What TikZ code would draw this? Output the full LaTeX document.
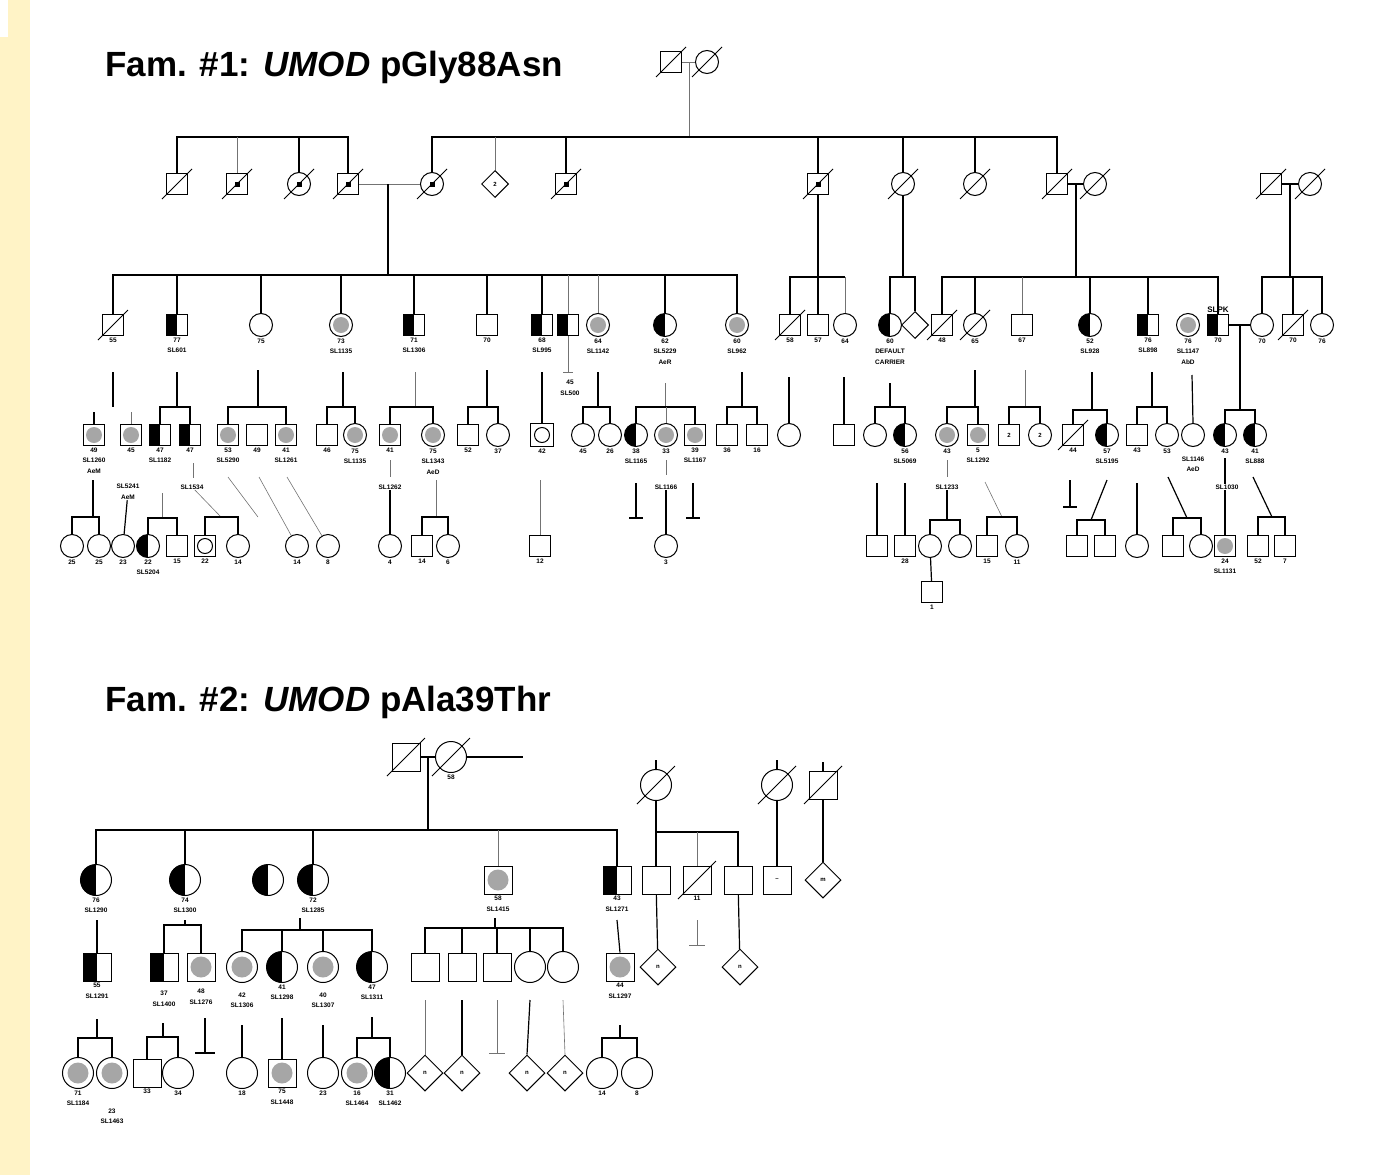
\documentclass[tikz,border=0pt]{standalone}
\usepackage{fontspec}
\setmainfont{Liberation Sans}
\usetikzlibrary{shapes.geometric,positioning}
\definecolor{strip}{HTML}{FFF3C6}

\begin{document}
\begin{tikzpicture}[x=1pt,y=-1pt,
  m/.style={draw,rectangle,minimum size=21pt,inner sep=0pt,line width=1pt,fill=white,font=\fontsize{6}{6}\selectfont\bfseries},
  f/.style={draw,circle,minimum size=23pt,inner sep=0pt,line width=1pt,fill=white,font=\fontsize{6}{6}\selectfont\bfseries},
  u/.style={draw,diamond,minimum size=27pt,inner sep=0pt,line width=1pt,fill=white,font=\fontsize{6}{6}\selectfont\bfseries},
  hf/.style={path picture={\fill[black] (path picture bounding box.south west) rectangle (path picture bounding box.north);}},
  ga/.style={path picture={\fill[black!35] (path picture bounding box.center) circle (8pt);}},
  mk/.style={path picture={\fill[black] (path picture bounding box.center) ++(-2.5,-2.5) rectangle ++(5,5);}},
  ring/.style={path picture={\draw[black] (path picture bounding box.center) circle (7.5pt);}},
  ln/.style={line width=1.2pt},
  tn/.style={line width=0.6pt,black!55},
  lab/.style={font=\fontsize{6.5}{10.5}\selectfont\bfseries,align=center,inner sep=0.5pt,fill=white},
  ttl/.style={font=\fontsize{35}{35}\selectfont\bfseries,anchor=west,inner sep=0pt},
  every label/.style={font=\fontsize{6.5}{10.5}\selectfont\bfseries,align=center,inner sep=0.5pt},
  label distance=1pt]
\useasboundingbox (0,0) rectangle (1376,1175);
\fill[strip] (0,0) rectangle (30,1175);
\fill[white] (0,0) rectangle (8,37);

% ---- family 1 ----
\node[ttl] (t1) at (105,67) {Fam. \#1: \textit{UMOD} pGly88Asn};
\node[m] (g1) at (671,62) {}; \node[f] (g2) at (707,62) {};
\coordinate (g12) at (689,62);
\draw[tn] (g1) -- (g2); \draw[tn] (g12) -- (g12 |- 0,137);

% generation II
\node[m] (A1) at (177,184) {};
\node[m,mk] (A2) at (237,184) {};
\node[f,mk] (A3) at (299,184) {};
\node[m,mk] (A4) at (348,184) {};
\node[f,mk] (B1) at (432,184) {};
\node[u] (B2) at (495,184) {2};
\node[m,mk] (B3) at (566,184) {};
\node[m,mk] (B4) at (818,184) {};
\node[f] (B5) at (903,184) {};
\node[f] (B6) at (975,184) {};
\node[m] (B7) at (1057,184) {};
\node[f] (B8) at (1095,184) {};
\node[m] (C1) at (1271,184) {};
\node[f] (C2) at (1310,184) {};
\draw[ln] (A1.north) |- (A4.north |- 0,137) -- (A4.north);
\draw[tn] (A2.north) -- (A2.north |- 0,137); \draw[ln] (A3.north) -- (A3.north |- 0,137);
\draw[ln] (B1.north) |- (B7.north |- 0,137) -- (B7.north);
\draw[tn] (B2.north) -- (B2.north |- 0,137);
\foreach \n in {B3,B4,B5,B6} \draw[ln] (\n.north) -- (\n.north |- 0,137);
\draw[tn] (A4) -- (B1); \coordinate (m1) at (388,184);
\draw[ln] (B7) -- (B8); \coordinate (m2) at (1076,184);
\draw[ln] (C1) -- (C2); \coordinate (m3) at (1290,184);

% generation III
\node[m,label=below:55] (c1) at (113,325) {};
\node[m,hf,label=below:77\\SL601] (c2) at (177,325) {};
\node[f,label=below:75] (c3) at (261,325) {};
\node[f,ga,label=below:73\\SL1135] (c4) at (341,325) {};
\node[m,hf,label=below:71\\SL1306] (c5) at (414,325) {};
\node[m,label=below:70] (c6) at (487,325) {};
\node[m,hf,label=below:68\\SL995] (c7) at (542,325) {};
\node[m,hf] (c8) at (568,325) {};
\node[f,ga,label=below:64\\SL1142] (c9) at (598,325) {};
\node[f,hf,label=below:62\\SL5229\\AeR] (c10) at (665,325) {};
\node[f,ga,label=below:60\\SL962] (c11) at (737,325) {};
\draw[ln] (m1) -- (m1 |- 0,275);
\draw[ln] (c1.north) |- (c11.north |- 0,275) -- (c11.north);
\foreach \n in {c2,c3,c4,c5,c6,c7,c10} \draw[ln] (\n.north) -- (\n.north |- 0,275);
\foreach \n in {c8,c9} \draw[tn] (\n.north) -- (\n.north |- 0,275);
\draw[tn] (c8.south) -- (c8 |- 0,372) ++(-5,0) -- ++(10,0);
\node[lab] (c8l) at (570,388) {45\\SL500};

\node[m,label=below:58] (d1) at (790,325) {};
\node[m,label=below:57] (d2) at (818,325) {};
\node[f,label=below:64] (d3) at (845,325) {};
\draw[ln] (B4) -- (d2);
\draw[ln] (d1.north) |- (d3.north |- 0,277); \draw[tn] (d3.north) -- (d3.north |- 0,277);

\node[f,hf,label=below:60\\DEFAULT\\CARRIER] (e1) at (890,325) {};
\node[u] (e2) at (915,325) {};
\draw[ln] (B5) -- (B5 |- 0,277);
\draw[ln] (e1.north) |- (e2.north |- 0,277) -- (e2.north);

\node[m,label=below:48] (h1) at (942,325) {};
\node[f,label=below:65] (h2) at (975,325) {};
\node[m,label=below:67] (h3) at (1022,325) {};
\node[f,hf,label=below:52\\SL928] (h4) at (1090,325) {};
\node[m,hf,label=below:76\\SL898] (h5) at (1148,325) {};
\node[f,ga,label=below:76\\SL1147\\AbD] (h6) at (1188,325) {};
\node[m,hf,label=below:70,label={[font=\fontsize{8}{8}\selectfont\bfseries]above:SLPK}] (h7) at (1218,325) {};
\draw[ln] (m2) -- (m2 |- 0,277);
\draw[ln] (h1.north) |- (h7.north |- 0,277) -- (h7.north);
\foreach \n in {h2,h4,h5} \draw[ln] (\n.north) -- (\n.north |- 0,277);
\draw[tn] (h3.north) -- (h3.north |- 0,277);

\node[f,label=below:70] (k1) at (1262,325) {};
\node[m,label=below:70] (k2) at (1293,325) {};
\node[f,label=below:76] (k3) at (1322,325) {};
\draw[ln] (m3) -- (m3 |- 0,277);
\draw[ln] (k1.north) |- (k3.north |- 0,277) -- (k3.north);
\draw[ln] (k2.north) -- (k2.north |- 0,277);
\draw[ln] (h7) -- (k1); \coordinate (m4) at (1240,325);

% generation IV
\node[m,ga,label=below:49\\SL1260\\AeM] (p1) at (94,435) {};
\node[m,ga,label=below:45] (p2) at (131,435) {};
\node[m,hf,label=below:47\\SL1182] (p3) at (160,435) {};
\node[m,hf,label=below:47] (p4) at (190,435) {};
\node[lab] (p2l) at (128,492) {SL5241\\AeM};
\node[lab] (p4l) at (192,487) {SL1534};
\draw[ln] (c1) ++(0,47) -- (c1 |- 0,407);
\draw[ln] (p1.north) -- ++(0,-12); \draw[tn] (p2.north) -- ++(0,-12);
\draw[ln] (c2) ++(0,47) -- (c2 |- 0,407);
\draw[ln] (p3.north) |- (p4.north |- 0,407) -- (p4.north);
\draw[tn] (p4) ++(3,28) -- ++(0,15);

\node[m,ga,label=below:53\\SL5290] (q1) at (228,435) {};
\node[m,label=below:49] (q2) at (257,435) {};
\node[m,ga,label=below:41\\SL1261] (q3) at (286,435) {};
\draw[ln] (c3) ++(-3,45) -- ++(0,37);
\draw[ln] (q1.north) |- (q3.north |- 0,407) -- (q3.north);

\node[m,label=below:46] (r1) at (327,435) {};
\node[f,ga,label=below:75\\SL1135] (r2) at (355,435) {};
\draw[ln] (c4) ++(2,47) -- ++(0,35);
\draw[ln] (r1.north) |- (r2.north |- 0,407) -- (r2.north);

\node[m,ga,label=below:41] (s1) at (390,435) {};
\node[f,ga,label=below:75\\SL1343\\AeD] (s2) at (433,435) {};
\node[lab] (s1l) at (390,487) {SL1262};
\draw[tn] (c5) ++(1,47) -- ++(0,35);
\draw[ln] (s1.north) |- (s2.north |- 0,407) -- (s2.north);
\draw[tn] (s1) ++(0,25) -- ++(0,17);

\node[m,label=below:52] (u1) at (468,435) {};
\node[f,label=below:37] (u2) at (498,435) {};
\draw[ln] (c6) ++(0,45) -- ++(0,37);
\draw[ln] (u1.north) |- (u2.north |- 0,407) -- (u2.north);

\node[m,ring,minimum size=23pt,label=below:42] (v1) at (542,435) {};
\draw[ln] (c7) ++(0,47) -- (v1.north);

\node[f,label=below:45] (w1) at (583,435) {};
\node[f,label=below:26] (w2) at (610,435) {};
\draw[ln] (c9) ++(0,47) -- ++(0,35);
\draw[ln] (w1.north) |- (w2.north |- 0,407) -- (w2.north);

\node[f,hf,label=below:38\\SL1165] (x1) at (636,435) {};
\node[f,ga,label=below:33] (x2) at (666,435) {};
\node[m,ga,label=below:39\\SL1167] (x3) at (695,435) {};
\draw[tn] (c10) ++(0,58) -- ++(0,24);
\draw[ln] (x1.north) |- (x3.north |- 0,407) -- (x3.north);
\draw[tn] (x2.north) -- (x2.north |- 0,407);
\draw[tn] (x2) ++(0,25) -- ++(0,15);
\draw[ln] (x1) ++(0,48) -- ++(0,35) ++(-7,0) -- ++(14,0);
\draw[ln] (x3) ++(-2,48) -- ++(0,35) ++(-7,0) -- ++(14,0);
\node[lab] (x2l) at (666,487) {SL1166};
\node[f,label=below:3] (y1) at (666,546) {};
\draw[ln] (x2l) -- (y1);

\node[m,label=below:36] (z1) at (727,435) {};
\node[m,label=below:16] (z2) at (757,435) {};
\draw[ln] (c11) ++(5,47) -- ++(0,35);
\draw[ln] (z1.north) |- (z2.north |- 0,407) -- (z2.north);

\node[f] (aa1) at (789,435) {};
\node[m] (aa2) at (844,435) {};
\draw[ln] (d1) ++(-1,52) -- (aa1.north);
\draw[ln] (d3) ++(-1,52) -- (aa2.north);

\node[f] (bb1) at (875,435) {};
\node[f,hf,label=below:56\\SL5069] (bb2) at (905,435) {};
\draw[ln] (e1) ++(0,58) -- ++(0,24);
\draw[ln] (bb1.north) |- (bb2.north |- 0,407) -- (bb2.north);
\node[m] (cc1) at (877,546) {};
\node[m,label=below:28] (cc2) at (905,546) {};
\draw[ln] (bb1) ++(2,48) -- (cc1.north);
\draw[ln] (bb2) ++(0,48) -- (cc2.north);

\node[f,ga,label=below:43] (dd1) at (947,435) {};
\node[m,ga,label=below:5\\SL1292] (dd2) at (978,435) {};
\draw[ln] (h2) ++(0,45) -- ++(0,37);
\draw[ln] (dd1.north) |- (dd2.north |- 0,407) -- (dd2.north);
\draw[tn] (dd1) ++(0,25) -- ++(0,17);
\node[lab] (dd1l) at (947,487) {SL1233};
\node[f] (ee1) at (930,546) {};
\node[f] (ee2) at (960,546) {};
\node[m,label=below:1] (ff1) at (932,592) {};
\draw[ln] (dd1l) -- (dd1l |- 0,520);
\draw[ln] (ee1.north) |- (ee2.north |- 0,520) -- (ee2.north);
\draw[ln] (ee1) -- (ff1);
\node[m,label=below:15] (ee3) at (987,546) {};
\node[f,label=below:11] (ee4) at (1017,546) {};
\coordinate (jn5) at (1002,517);
\draw[tn] (dd2) ++(7,47) -- (jn5);
\draw[ln] (ee3.north) |- (ee4.north |- 0,517) -- (ee4.north);

\node[m] (gg1) at (1009,435) {2};
\node[f] (gg2) at (1040,435) {2};
\draw[tn] (h3) ++(3,45) -- ++(0,37);
\draw[ln] (gg1.north) |- (gg2.north |- 0,407) -- (gg2.north);

\node[m,label=below:44] (hh1) at (1073,435) {};
\node[f,hf,label=below:57\\SL5195] (hh2) at (1107,435) {};
\draw[ln] (h4) ++(2,47) -- ++(0,38);
\draw[ln] (hh1.north) |- (hh2.north |- 0,410) -- (hh2.north);
\draw[ln] (hh1) ++(-3,45) -- ++(0,27) ++(-7,0) -- ++(14,0);
\node[m] (ii1) at (1077,546) {};
\node[m] (ii2) at (1105,546) {};
\coordinate (jn6) at (1091,520);
\draw[ln] (hh2) ++(0,45) -- (jn6);
\draw[ln] (ii1.north) |- (ii2.north |- 0,520) -- (ii2.north);

\node[m,label=below:43] (jj1) at (1137,435) {};
\node[f,label=below:53] (jj2) at (1167,435) {};
\draw[ln] (h5) ++(4,47) -- ++(0,35);
\draw[ln] (jj1.north) |- (jj2.north |- 0,407) -- (jj2.north);
\node[f] (kk1) at (1137,546) {};
\draw[ln] (jj1) ++(0,48) -- (kk1.north);
\node[m] (kk2) at (1173,546) {};
\node[f] (kk3) at (1201,546) {};
\coordinate (jn7) at (1187,518);
\draw[ln] (jj2) ++(1,42) -- (jn7);
\draw[ln] (kk2.north) |- (kk3.north |- 0,518) -- (kk3.north);

\node[f,label={[yshift=-8pt]below:SL1146\\AeD}] (ll1) at (1193,435) {};
\draw[ln] (h6) ++(4,50) -- (ll1.north);

\node[f,hf,label=below:43] (mm1) at (1225,435) {};
\node[f,hf,label=below:41\\SL888] (mm2) at (1255,435) {};
\draw[ln] (m4) -- (m4 |- 0,410);
\draw[ln] (mm1.north) |- (mm2.north |- 0,410) -- (mm2.north);
\node[m,ga,label=below:24\\SL1131] (nn1) at (1225,546) {};
\draw[ln] (mm1) ++(0,23) -- (nn1.north);
\node[lab] (mm1l) at (1227,487) {SL1030};
\node[m,label=below:52] (nn2) at (1258,546) {};
\node[m,label=below:7] (nn3) at (1285,546) {};
\coordinate (jn8) at (1272,517);
\draw[ln] (mm2) ++(-2,42) -- (jn8);
\draw[ln] (nn2.north) |- (nn3.north |- 0,517) -- (nn3.north);

% generation V, left part
\node[f,label=below:25] (o1) at (72,546) {};
\node[f,label=below:25] (o2) at (99,546) {};
\draw[ln] (p1) ++(-1,45) -- ++(0,37);
\draw[ln] (o1.north) |- (o2.north |- 0,517) -- (o2.north);
\node[f,label=below:23] (o3) at (123,546) {};
\draw[ln] (p2l) -- (o3);
\node[f,hf,label=below:22\\SL5204] (o4) at (148,546) {};
\node[m,label=below:15] (o5) at (177,546) {};
\draw[tn] (p3) ++(2,58) -- ++(0,25);
\draw[ln] (o4.north) |- (o5.north |- 0,518) -- (o5.north);
\node[m,ring,label=below:22] (o6) at (205,546) {};
\node[f,label=below:14] (o7) at (238,546) {};
\coordinate (jn1) at (221,517);
\draw[tn] (p4l) -- (jn1);
\draw[ln] (o6.north) |- (o7.north |- 0,517) -- (o7.north);
\coordinate (jn2) at (258,517);
\node[f,label=below:14] (o8) at (297,546) {};
\node[f,label=below:8] (o9) at (328,546) {};
\draw[tn] (q1) ++(0,42) -- (jn2);
\draw[tn] (q2) ++(2,42) -- (o8);
\draw[tn] (q3) ++(1,42) -- (o9);
\node[f,label=below:4] (o10) at (390,546) {};
\draw[ln] (s1l) -- (o10);
\node[m,label=below:14] (o11) at (422,546) {};
\node[f,label=below:6] (o12) at (448,546) {};
\draw[tn] (s2) ++(3,45) -- ++(0,37);
\draw[ln] (o11.north) |- (o12.north |- 0,517) -- (o12.north);
\node[m,label=below:12] (o13) at (540,546) {};
\draw[tn] (v1) ++(-2,45) -- (o13.north);

\foreach \n in {g1,g2,A1,A2,A3,A4,B1,B3,B4,B5,B6,B7,B8,C1,C2,c1,d1,h1,h2,k2,hh1}
  \draw[line width=0.8pt] (\n.center) ++(-15,15) -- ++(30,-30);

% ---- family 2 ----
\node[ttl] (t2) at (105,702) {Fam. \#2: \textit{UMOD} pAla39Thr};
\begin{scope}[m/.append style={minimum size=28pt}, f/.append style={minimum size=31pt},
  u/.append style={minimum size=36pt},
  ga/.style={path picture={\fill[black!35] (path picture bounding box.center) circle (10.5pt);}}]
\node[m] (P1) at (406,757) {};
\node[f,label=below:58] (P2) at (451,757) {};
\coordinate (pm) at (428,757); \coordinate (pe) at (523,757);
\draw[ln] (P1) -- (P2); \draw[ln] (P2) -- (pe);
\draw[ln] (pm) -- (pm |- 0,830);

\node[f,hf,label=below:76\\SL1290] (Q1) at (96,880) {};
\node[f,hf,label=below:74\\SL1300] (Q2) at (185,880) {};
\node[f,hf] (Q3) at (268,880) {};
\node[f,hf,label=below:72\\SL1285] (Q4) at (313,880) {};
\node[m,ga,label=below:58\\SL1415] (Q5) at (498,880) {};
\node[m,hf,label=below:43\\SL1271] (Q6) at (617,880) {};
\draw[ln] (Q1.north) |- (Q6.north |- 0,830) -- (Q6.north);
\foreach \n in {Q2,Q4} \draw[ln] (\n.north) -- (\n.north |- 0,830);
\draw[tn] (Q5.north) -- (Q5.north |- 0,830);

\node[f] (R1) at (656,785) {};
\node[f] (R2) at (777,785) {};
\node[m] (R3) at (823,785) {};
\foreach \n in {R1,R2,R3} \draw[ln] (\n.north) -- ++(0,-9);
\node[m] (S1) at (656,880) {};
\node[m,label=below:11] (S2) at (697,880) {};
\node[m] (S3) at (738,880) {};
\node[m] (S4) at (777,880) {--};
\node[u] (S5) at (823,880) {m};
\draw[ln] (R1) -- (S1);
\draw[ln] (S1.north) |- (S3.north |- 0,832) -- (S3.north);
\draw[tn] (S2.north) -- (S2.north |- 0,832);
\draw[ln] (R2) -- (S4); \draw[ln] (R3) -- (S5);

\node[m,hf,label=below:55\\SL1291] (T1) at (97,967) {};
\draw[ln] (Q1) ++(1,40) -- (T1.north);
\node[m,hf,label={[yshift=-8pt]below:37\\SL1400}] (T2) at (164,967) {};
\node[m,ga,label={[yshift=-6pt]below:48\\SL1276}] (T3) at (201,967) {};
\draw[ln] (Q2) ++(0,40) -- ++(0,5);
\draw[ln] (T2.north) |- (T3.north |- 0,925) -- (T3.north);
\node[f,ga,label={[yshift=-8pt]below:42\\SL1306}] (T4) at (242,967) {};
\node[f,hf,label=below:41\\SL1298] (T5) at (282,967) {};
\node[f,ga,label={[yshift=-8pt]below:40\\SL1307}] (T6) at (323,967) {};
\node[f,hf,label=below:47\\SL1311] (T7) at (372,967) {};
\draw[ln] (Q4) ++(-13,38) -- ++(0,12);
\draw[ln] (T4.north) |- (T7.north |- 0,930) -- (T7.north);
\foreach \n in {T5,T6} \draw[ln] (\n.north) -- (\n.north |- 0,930);
\node[m] (U1) at (425,967) {};
\node[m] (U2) at (462,967) {};
\node[m] (U3) at (497,967) {};
\node[f] (U4) at (530,967) {};
\node[f] (U5) at (563,967) {};
\draw[ln] (Q5) ++(-3,38) -- ++(0,10);
\draw[ln] (U1.north) |- (U5.north |- 0,928) -- (U5.north);
\foreach \n in {U2,U3,U4} \draw[ln] (\n.north) -- (\n.north |- 0,928);
\node[m,ga,label=below:44\\SL1297] (T8) at (620,967) {};
\draw[ln] (Q6) ++(0,40) -- (T8.north);
\node[u] (V1) at (658,967) {n};
\node[u] (V2) at (740,967) {n};
\draw[ln] (S1) -- (V1);
\draw[tn] (S2) ++(0,40) -- ++(0,25) ++(-8,0) -- ++(16,0);
\draw[ln] (S3) -- (V2);

\node[f,ga,label=below:71\\SL1184] (W1) at (78,1073) {};
\node[f,ga,label={[yshift=-18pt]below:23\\SL1463}] (W2) at (112,1073) {};
\draw[ln] (T1) ++(0,52) -- ++(0,19);
\draw[ln] (W1.north) |- (W2.north |- 0,1038) -- (W2.north);
\node[m,label=below:33] (W3) at (147,1073) {};
\node[f,label=below:34] (W4) at (178,1073) {};
\draw[ln] (T2) ++(-1,56) -- ++(0,14);
\draw[ln] (W3.north) |- (W4.north |- 0,1037) -- (W4.north);
\draw[ln] (T3) ++(4,51) -- ++(0,35) ++(-10,0) -- ++(20,0);
\node[f,label=below:18] (W5) at (242,1073) {};
\node[m,ga,label=below:75\\SL1448] (W6) at (282,1073) {};
\node[f,label=below:23] (W7) at (323,1073) {};
\draw[ln] (T4) ++(0,58) -- (W5.north);
\draw[ln] (T5) ++(0,51) -- (W6.north);
\draw[ln] (T6) ++(0,58) -- (W7.north);
\node[f,ga,label=below:16\\SL1464] (W8) at (357,1073) {};
\node[f,hf,label=below:31\\SL1462] (W9) at (390,1073) {};
\draw[ln] (T7) ++(0,50) -- ++(0,21);
\draw[ln] (W8.north) |- (W9.north |- 0,1038) -- (W9.north);
\node[u] (X1) at (425,1073) {n};
\node[u] (X2) at (462,1073) {n};
\node[u] (X3) at (527,1073) {n};
\node[u] (X4) at (565,1073) {n};
\draw[tn] (U1) ++(0,33) -- (X1.north);
\draw[ln] (U2) ++(0,33) -- (X2.north);
\draw[tn] (U3) ++(0,33) -- ++(0,53) ++(-8,0) -- ++(16,0);
\draw[ln] (U4) ++(0,33) -- (X3.north);
\draw[tn] (U5) ++(0,33) -- (X4.north);
\node[f,label=below:14] (W10) at (602,1073) {};
\node[f,label=below:8] (W11) at (637,1073) {};
\draw[ln] (T8) ++(0,58) -- ++(0,13);
\draw[ln] (W10.north) |- (W11.north |- 0,1038) -- (W11.north);

\foreach \n in {P1,P2,R1,R2,R3,S2}
  \draw[line width=0.8pt] (\n.center) ++(-19,19) -- ++(38,-38);
\end{scope}
\end{tikzpicture}
\end{document}
